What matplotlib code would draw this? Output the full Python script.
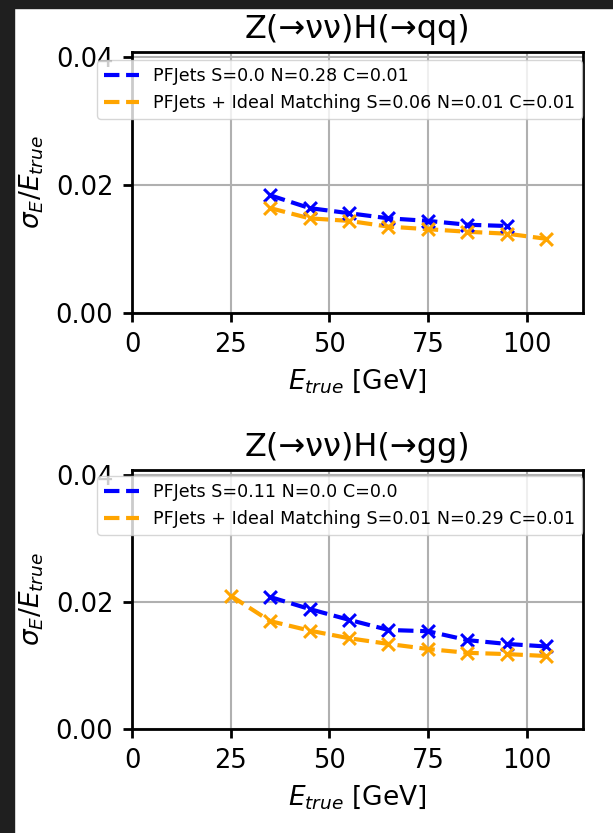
import matplotlib
matplotlib.use('Agg')
import matplotlib.pyplot as plt
from matplotlib.patches import Rectangle

# ZvvHqq
e_qq_pf = [35, 45, 55, 65, 75, 85, 95]
res_qq_pf = [0.0184, 0.0164, 0.0156, 0.0148, 0.0144, 0.0138, 0.0136]
e_qq_ideal = [35, 45, 55, 65, 75, 85, 95, 105]
res_qq_ideal = [0.0164, 0.0148, 0.0144, 0.0135, 0.0131, 0.0127, 0.0124, 0.0116]

# ZvvHgg
e_gg_pf = [35, 45, 55, 65, 75, 85, 95, 105]
res_gg_pf = [0.0208, 0.0189, 0.0172, 0.0156, 0.0154, 0.0140, 0.0134, 0.0130]
e_gg_ideal = [25, 35, 45, 55, 65, 75, 85, 95, 105]
res_gg_ideal = [0.0210, 0.0170, 0.0155, 0.0143, 0.0134, 0.0126, 0.0120, 0.0118, 0.0115]

titles = ['Z(→νν)H(→qq)', 'Z(→νν)H(→gg)']
labels_pf = ['PFJets S=0.0 N=0.28 C=0.01', 'PFJets S=0.11 N=0.0 C=0.0']
labels_ideal = ['PFJets + Ideal Matching S=0.06 N=0.01 C=0.01',
                'PFJets + Ideal Matching S=0.01 N=0.29 C=0.01']

W, H = 613, 833
fig = plt.figure(figsize=(W / 100, H / 100), dpi=100)
fig.patch.set_facecolor('white')

# dark frame strips (left and top)
fig.patches.append(Rectangle((0, 0), 14 / W, 1, transform=fig.transFigure,
                             color='#1f1f1f', zorder=0))
fig.patches.append(Rectangle((0, 1 - 8 / H), 1, 8 / H, transform=fig.transFigure,
                             color='#1f1f1f', zorder=0))

left, right = 132, 583
boxes = [(52, 313), (470, 729)]
panels = [
    (e_qq_pf, res_qq_pf, e_qq_ideal, res_qq_ideal),
    (e_gg_pf, res_gg_pf, e_gg_ideal, res_gg_ideal),
]

for i, (top, bottom) in enumerate(boxes):
    ax = fig.add_axes([left / W, (H - bottom) / H, (right - left) / W, (bottom - top) / H])
    x1, y1, x2, y2 = panels[i]

    ax.plot(x1, y1, '--', color='blue', lw=3, label=labels_pf[i])
    ax.scatter(x1, y1, marker='x', color='blue', s=85, linewidths=2.2, zorder=3)
    ax.plot(x2, y2, '--', color='orange', lw=3, label=labels_ideal[i])
    ax.scatter(x2, y2, marker='x', color='orange', s=85, linewidths=2.2, zorder=3)

    ax.set_xlim(0, 114.3)
    ax.set_ylim(0, 0.0408)
    ax.set_xticks([0, 25, 50, 75, 100])
    ax.set_yticks([0.0, 0.02, 0.04])
    ax.set_yticklabels(['0.00', '0.02', '0.04'])
    ax.grid(True, color='#b0b0b0', lw=1.5)
    for sp in ax.spines.values():
        sp.set_linewidth(2)
    ax.tick_params(labelsize=18.5, width=2, length=6.5, pad=7)

    ax.set_title(titles[i], fontsize=23, pad=10)
    ax.set_xlabel(r'$E_{true}$ [GeV]', fontsize=19, labelpad=7)
    ax.set_ylabel(r'$\sigma_E/E_{true}$', fontsize=19, labelpad=7)

    leg_top = top + 8 if i == 0 else top + 6
    ax.legend(loc='upper left', fontsize=12.6, borderaxespad=0,
              bbox_to_anchor=((97 - left) / (right - left), 1 - (leg_top - top) / (bottom - top)),
              handlelength=2.0)

fig.savefig('out.png', dpi=100)
